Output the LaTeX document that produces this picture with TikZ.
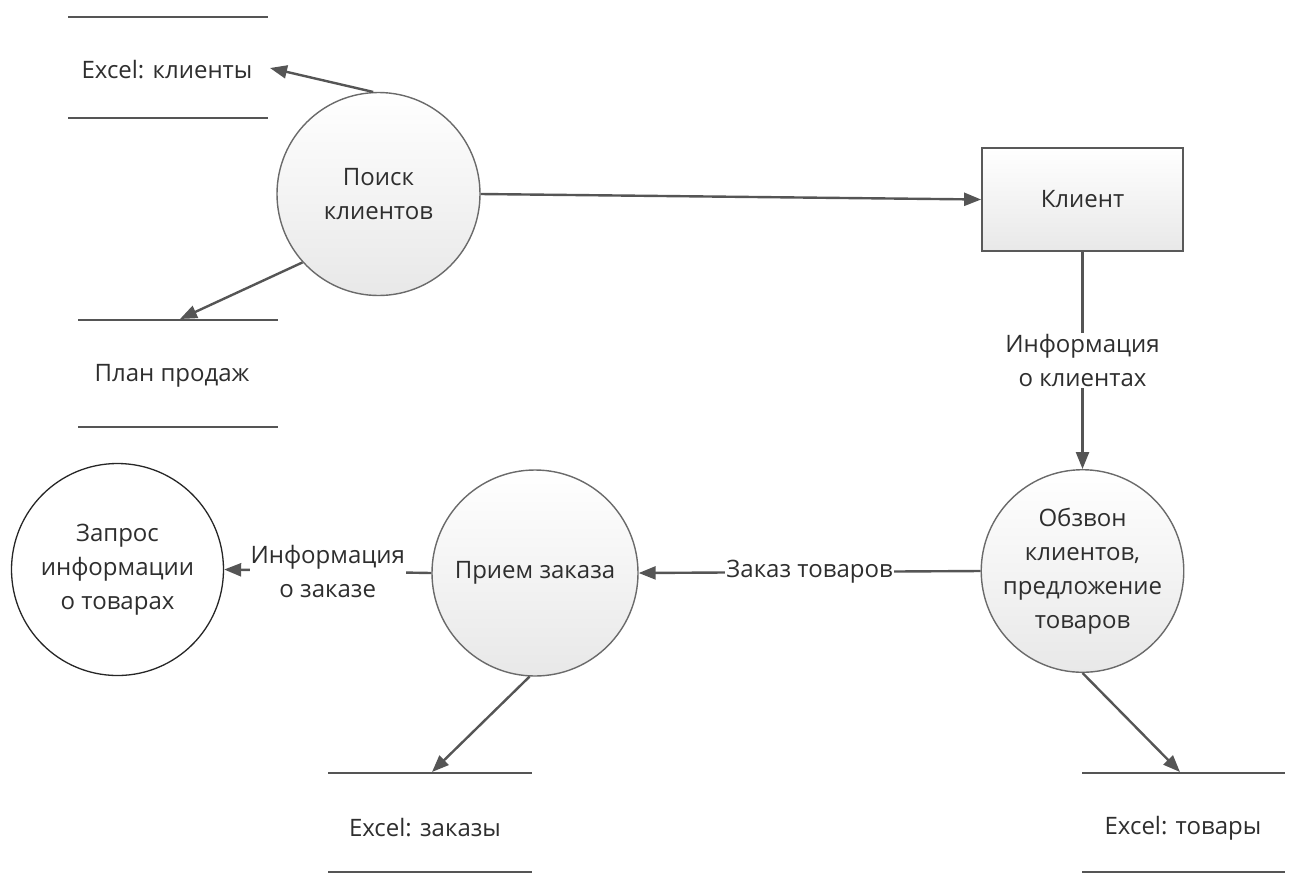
\documentclass[tikz,border=0pt]{standalone}
\usepackage{fontspec}
\setmainfont{Open Sans}
\usetikzlibrary{arrows.meta}
\definecolor{ln}{HTML}{555555}
\definecolor{bd}{HTML}{6A6A6A}
\definecolor{tx}{HTML}{2E2E2E}
\newcommand\dfsz{\fontsize{24}{34}\selectfont}
\tikzset{
  proc/.style={circle, draw=bd, line width=1.4pt, top color=white, bottom color=black!9,
    minimum size=#1, inner sep=0pt, align=center, text=tx, font=\dfsz},
  ent/.style={rectangle, draw=black!65, line width=1.8pt, top color=white, bottom color=black!9,
    minimum width=201pt, minimum height=103pt, inner sep=0pt, text=tx, font=\dfsz},
  extc/.style={circle, draw=black!85, line width=1.3pt, fill=white, minimum size=#1,
    inner sep=0pt, align=center, text=tx, font=\dfsz},
  flow/.style={draw=ln, line width=2.4pt, -{Triangle[length=17pt,width=13pt]}},
  storeline/.style={draw=ln, line width=2.6pt},
  storetext/.style={inner sep=0pt, text=tx, font=\dfsz},
  lbl/.style={fill=white, inner sep=1pt, align=center, text=tx, font=\dfsz}
}
\begin{document}
\begin{tikzpicture}[x=1pt,y=-1pt]
\useasboundingbox (0,0) rectangle (1290,876);
% processes / entities
\node[proc=203pt] (poisk) at (378.5,194) {Поиск\\клиентов};
\node[ent] (klient) at (1082.5,199.5) {Клиент};
\node[proc=201pt] (obzvon) at (1082.5,571) {Обзвон\\клиентов,\\предложение\\товаров};
\node[proc=206pt] (priem) at (535,573) {Прием заказа};
\node[extc=212pt] (zapros) at (117.5,569.5) {Запрос\\информации\\о товарах};
% data stores
\node[storetext] (s1) at (167,70) {Excel: клиенты};
\draw[storeline] (68,17) -- (268,17);
\draw[storeline] (68,118) -- (268,118);
\node[storetext] (s2) at (172,376) {План продаж};
\draw[storeline] (78,320) -- (278,320);
\draw[storeline] (78,427) -- (278,427);
\node[storetext] (s3) at (425,828) {Excel: заказы};
\draw[storeline] (328,773) -- (532,773);
\draw[storeline] (328,872) -- (532,872);
\node[storetext] (s4) at (1183,828) {Excel: товары};
\draw[storeline] (1082,773) -- (1285,773);
\draw[storeline] (1082,872) -- (1285,872);
% arrow end points on stores
\coordinate (s1in) at (270,68);
\coordinate (s2in) at (180,319);
\coordinate (s3in) at (432,772);
\coordinate (s4in) at (1180,772);
% flows
\draw[flow] (poisk.east) -- (klient.west);
\draw[flow] (poisk.93) -- (s1in);
\draw[flow] (poisk.222) -- (s2in);
\draw[flow] (klient.south) -- (obzvon.north) node[lbl, midway] {Информация\\о клиентах};
\draw[flow] (obzvon.west) -- (priem.east) node[lbl, midway] {Заказ товаров};
\draw[flow] (priem.west) -- (zapros.east) node[lbl, midway] {Информация\\о заказе};
\draw[flow] (priem.267) -- (s3in);
\draw[flow] (obzvon.south) -- (s4in);
\end{tikzpicture}
\end{document}
